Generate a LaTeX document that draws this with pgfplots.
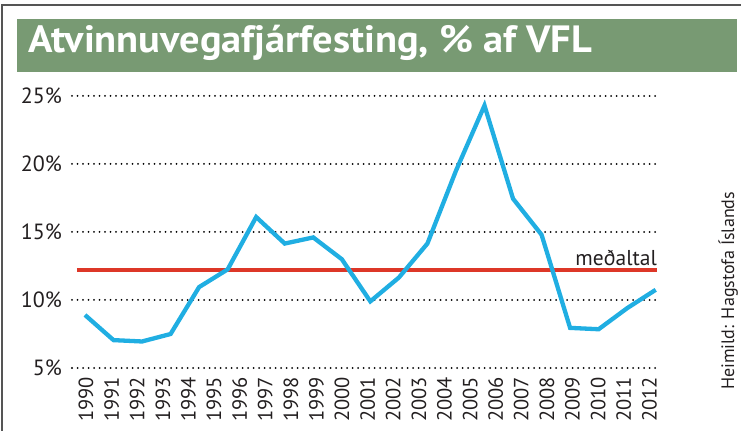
\documentclass[border=0pt]{standalone}
\usepackage{fontspec}
\setmainfont{PT Sans}
\usepackage{graphicx}
\usepackage{pgfplots}
\pgfplotsset{compat=1.18}
\definecolor{titlegreen}{RGB}{120,154,115}
\definecolor{lineblue}{RGB}{32,174,226}
\definecolor{avgred}{RGB}{221,55,40}
\definecolor{framegray}{RGB}{85,85,85}
\definecolor{txt}{RGB}{35,31,32}
\begin{document}
\begin{tikzpicture}
\useasboundingbox (0,0) rectangle (750bp,431bp);
% frame
\draw[framegray, line width=1.3bp] (2bp,0bp) -- (2bp,426bp) -- (741bp,426bp);
% title box
\fill[titlegreen] (17bp,359bp) rectangle (737bp,412bp);
\node[anchor=base west, inner sep=0pt, text=white] at (28bp,378bp)
  {\resizebox{564bp}{\height}{\fontsize{38bp}{42bp}\selectfont\bfseries Atvinnuvegafjárfesting, \% af VFL}};
% source
\node[anchor=base west, rotate=90, inner sep=0pt, text=txt] at (734bp,41bp)
  {\fontsize{18bp}{21bp}\selectfont Heimild: Hagstofa Íslands};
\begin{axis}[
  at={(72bp,63bp)}, anchor=south west,
  scale only axis, width=585bp, height=272bp,
  xmin=-0.5, xmax=22.05, ymin=5, ymax=25,
  clip=false,
  axis line style={draw=none},
  tick style={draw=none},
  ytick={5,10,15,20,25},
  yticklabels={5\%,10\%,15\%,20\%,25\%},
  xtick={0.04,1.027,2.014,3.001,3.988,4.975,5.962,6.949,7.936,8.923,9.91,10.897,11.884,12.871,13.858,14.845,15.832,16.819,17.806,18.793,19.78,20.767,21.754},
  xticklabels={1990,1991,1992,1993,1994,1995,1996,1997,1998,1999,2000,2001,2002,2003,2004,2005,2006,2007,2008,2009,2010,2011,2012},
  xticklabel style={rotate=90, anchor=east, inner sep=0pt, font=\fontsize{20.5bp}{23bp}\selectfont, text=txt},
  yticklabel style={anchor=east, inner sep=0pt, font=\fontsize{22bp}{25bp}\selectfont, text=txt},
  xticklabel shift=9bp,
  yticklabel shift=10bp,
  ymajorgrids,
  grid style={black, line width=2bp, line cap=round, dash pattern=on 0pt off 5.5bp},
]
\addplot[avgred, line width=4.7bp] coordinates {(-0.31,12.2) (22.05,12.2)};
\addplot[lineblue, line width=4.3bp, line join=miter] coordinates {
 (0,8.9) (1.1,7.05) (2.2,6.95) (3.3,7.5) (4.4,10.95) (5.5,12.25) (6.6,16.1)
 (7.7,14.15) (8.8,14.6) (9.9,13.0) (11,9.9) (12.1,11.65) (13.2,14.15) (14.3,19.5)
 (15.4,24.3) (16.5,17.45) (17.6,14.8) (18.7,7.95) (19.8,7.85) (20.9,9.4) (22,10.75)};
\node[anchor=base east, inner sep=0pt, text=txt, font=\fontsize{21.5bp}{24bp}\selectfont] at (axis cs:22.05,12.57) {meðaltal};
\end{axis}
\end{tikzpicture}
\end{document}
